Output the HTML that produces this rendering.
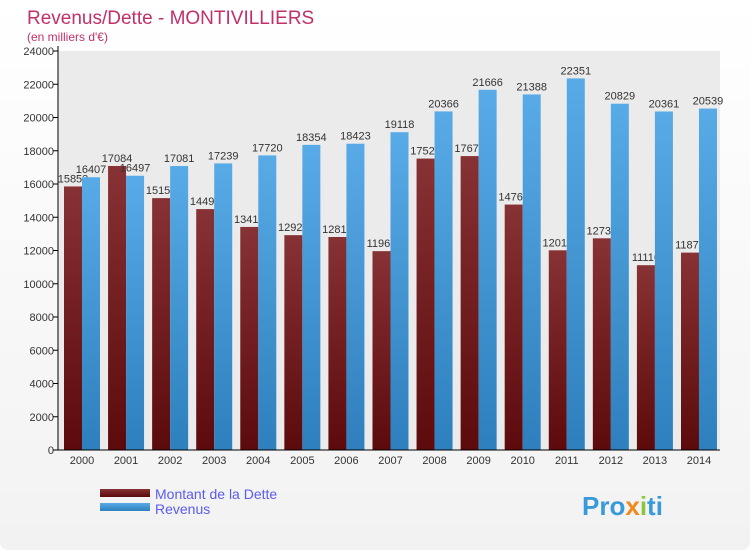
<!DOCTYPE html>
<html><head><meta charset="utf-8"><style>
body{margin:0;background:#fff;font-family:"Liberation Sans",sans-serif}
#c{position:relative;width:750px;height:550px;background:linear-gradient(#fff,#f2f2f2);border-radius:8px;overflow:hidden}
</style></head><body>
<div id="c">
<svg id="s" width="750" height="550">
<defs>
<linearGradient id="gd" x1="0" y1="0" x2="0" y2="1"><stop offset="0" stop-color="#873235"/><stop offset="1" stop-color="#5c0a0c"/></linearGradient>
<linearGradient id="gb" x1="0" y1="0" x2="0" y2="1"><stop offset="0" stop-color="#58abe6"/><stop offset="1" stop-color="#2e7fbd"/></linearGradient>
</defs>
<rect x="58" y="51" width="662" height="399" fill="#ebebeb"/>
<text x="27" y="24" font-size="19" fill="#c0306a">Revenus/Dette - MONTIVILLIERS</text>
<text x="27" y="41" font-size="12" fill="#c0306a">(en milliers d'€)</text>
<g id="g"></g>
<rect x="100" y="489" width="50" height="8" fill="url(#gd)"/>
<rect x="100" y="503" width="50" height="8" fill="url(#gb)"/>
<text x="155" y="499" font-size="14" fill="#5b5bf0">Montant de la Dette</text>
<text x="155" y="514" font-size="14" fill="#5b5bf0">Revenus</text>
<text x="582" y="515" font-size="26" font-weight="bold" fill="#3a9ad9">Pro<tspan fill="#f08a1c">x</tspan><tspan fill="#8cc63f">i</tspan>ti</text>
</svg></div>
<script>
const years=["2000","2001","2002","2003","2004","2005","2006","2007","2008","2009","2010","2011","2012","2013","2014"];
const dette=[15853,17084,15151,14491,13417,12923,12813,11961,17529,17679,14763,12012,12733,11116,11873];
const revenus=[16407,16497,17081,17239,17720,18354,18423,19118,20366,21666,21388,22351,20829,20361,20539];
const yTicks=[0,2000,4000,6000,8000,10000,12000,14000,16000,18000,20000,22000,24000];
const NS="http://www.w3.org/2000/svg";
const g=document.getElementById('g');
const y=v=>450-v*399/24000;
const cx=i=>82+i*44.07;
function el(t,a,txt){const e=document.createElementNS(NS,t);for(const k in a)e.setAttribute(k,a[k]);if(txt!=null)e.textContent=txt;g.appendChild(e);return e;}
yTicks.forEach(v=>{
 const t=el('text',{x:54,y:y(v)+4,'font-size':11,'text-anchor':'end',fill:'#333'},v);
 
 
 const l=el('line',{x1:53,x2:58,y1:y(v),y2:y(v),stroke:'#000'});
 
 
});
years.forEach((yr,i)=>{
 const b=el('rect',{x:cx(i)-18,y:y(dette[i]),width:18,height:450-y(dette[i]),fill:'url(#gd)'});
 
 
 const t=el('text',{x:cx(i)-9,y:y(dette[i])-4,'font-size':11,'text-anchor':'middle',fill:'#333'},dette[i]);
 
 
});
years.forEach((yr,i)=>{
 const b=el('rect',{x:cx(i),y:y(revenus[i]),width:18,height:450-y(revenus[i]),fill:'url(#gb)'});
 
 
 const t=el('text',{x:cx(i)+9,y:y(revenus[i])-4,'font-size':11,'text-anchor':'middle',fill:'#333'},revenus[i]);
 
 
 const x=el('text',{x:cx(i),y:464,'font-size':11,'text-anchor':'middle',fill:'#333'},yr);
 
 
});
const ax=el('line',{x1:58,x2:58,y1:46,y2:450,stroke:'#000'});


const bx=el('line',{x1:58,x2:720,y1:450,y2:450,stroke:'#000'});


</script>
</body></html>
